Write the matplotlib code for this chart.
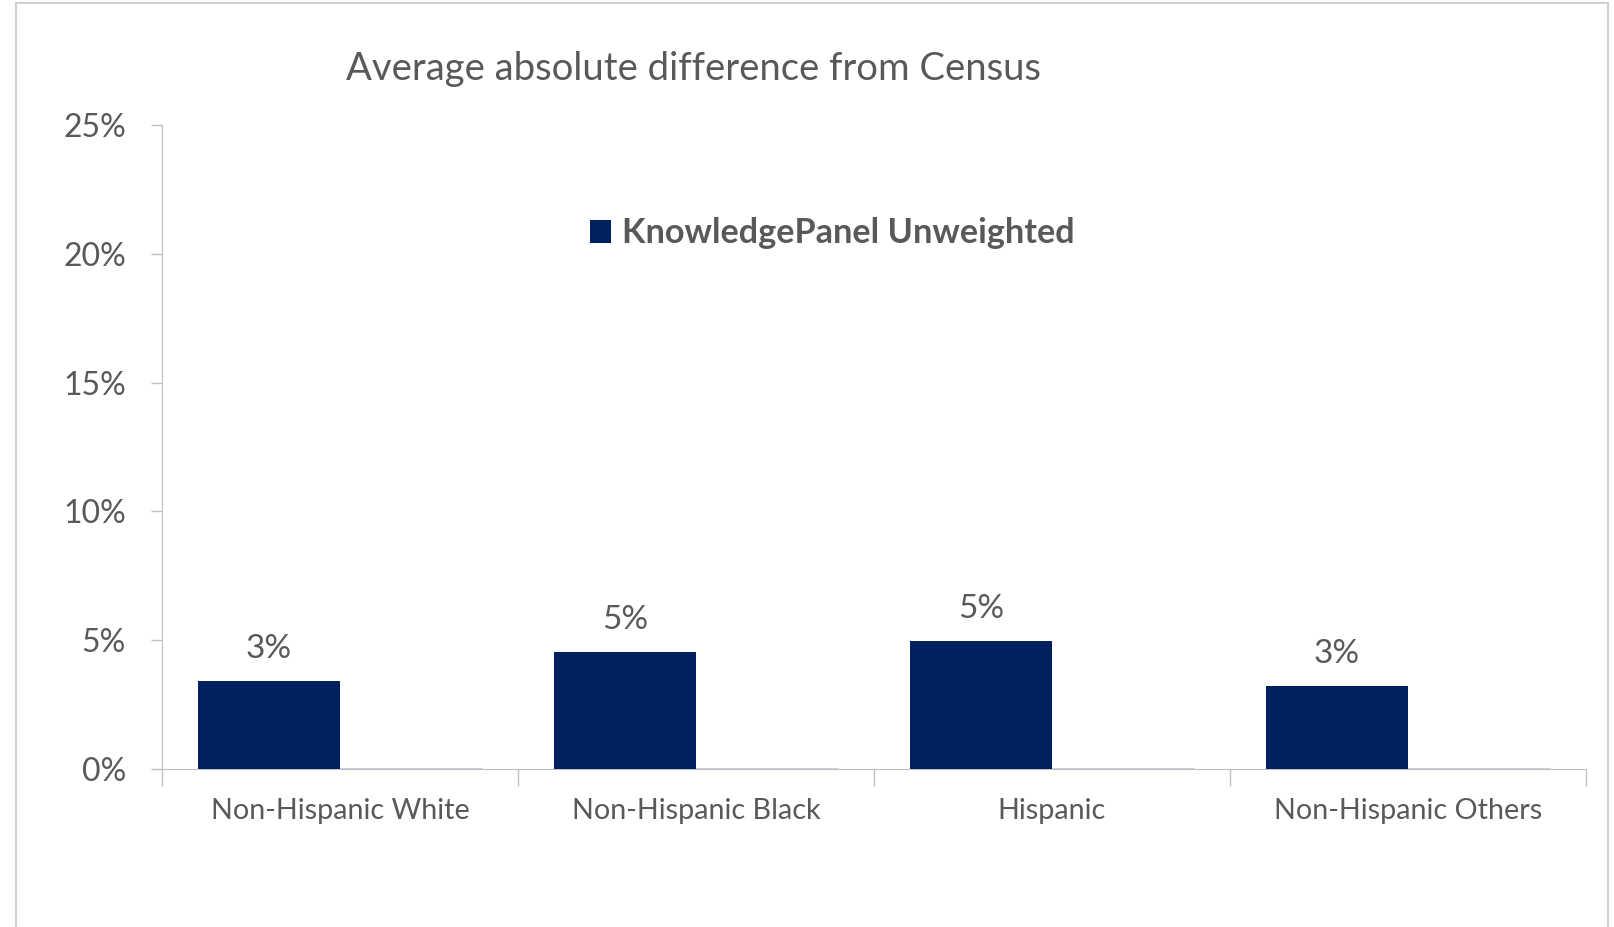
import matplotlib
matplotlib.use("Agg")
import matplotlib.pyplot as plt
from matplotlib.lines import Line2D
from matplotlib.ticker import FuncFormatter, MultipleLocator

categories = ["Non-Hispanic White", "Non-Hispanic Black", "Hispanic", "Non-Hispanic Others"]
unweighted = [3.43, 4.55, 4.99, 3.23]
second_series = [0, 0, 0, 0]
value_labels = ["3%", "5%", "5%", "3%"]
series_name = "KnowledgePanel Unweighted"
title = "Average absolute difference from Census"

TEXT = "#595959"
AXIS = "#bfbfbf"
BAR = "#002060"
FONT = "Lato"

plt.rcParams["font.family"] = [FONT, "DejaVu Sans"]

fig = plt.figure(figsize=(16.15, 9.27), dpi=100)
ax = fig.add_axes([0.1003, 0.1704, 0.8817, 0.6946])

x = list(range(len(categories)))
ax.bar([i - 0.2 for i in x], unweighted, width=0.4, color=BAR, label=series_name, zorder=3)
ax.bar([i + 0.2 for i in x], second_series, width=0.4, color=BAR, edgecolor=BAR,
       linewidth=1, label="_nolegend_", zorder=3)

for i, v, t in zip(x, unweighted, value_labels):
    ax.annotate(t, (i - 0.2, v), xytext=(0, 12), textcoords="offset points",
                ha="center", va="bottom", fontsize=24, color=TEXT)

ax.set_xlim(-0.5, len(categories) - 0.5)
ax.set_ylim(0, 25)
ax.yaxis.set_major_locator(MultipleLocator(5))
ax.yaxis.set_major_formatter(FuncFormatter(lambda v, p: f"{v:.0f}%"))

ax.set_xticks([i - 0.5 for i in range(len(categories) + 1)])
ax.set_xticklabels([])
ax.set_xticks(x, minor=True)
ax.set_xticklabels(categories, minor=True)
ax.tick_params(axis="x", which="major", length=12, width=1, color=AXIS, direction="out")
ax.tick_params(axis="x", which="minor", length=0, pad=21, labelsize=20.7, labelcolor=TEXT)
ax.tick_params(axis="y", length=8, width=1, color=AXIS, pad=18, labelsize=23, labelcolor=TEXT)

for s in ["top", "right"]:
    ax.spines[s].set_visible(False)
ax.spines["left"].set_color(AXIS)
ax.spines["bottom"].set_color(AXIS)

leg = ax.legend(loc="center", bbox_to_anchor=(0.4705, 0.832), frameon=False,
                prop={"size": 24.7, "weight": "bold"}, handlelength=0.64, handleheight=0.64,
                handletextpad=0.3)
for t in leg.get_texts():
    t.set_color(TEXT)

fig.text(0.4297, 0.926, title, ha="center", va="center", fontsize=27.5, color=TEXT,
         fontweight="normal")

# chart-area border
for xs, ys in [([0.0099, 0.0099], [0, 0.9967]), ([0.0099, 0.9957], [0.9967, 0.9967]),
               ([0.9957, 0.9957], [0, 0.9967])]:
    fig.add_artist(Line2D(xs, ys, color="#d0d0d0", linewidth=1.5, transform=fig.transFigure))

fig.savefig("out.png", dpi=100)
